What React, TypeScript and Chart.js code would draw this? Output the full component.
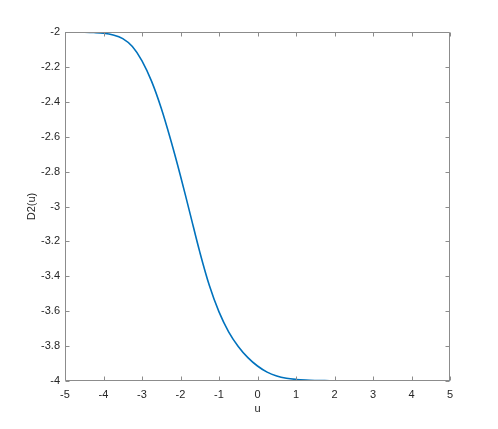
import React, { useEffect, useRef } from "react";
import { Chart, registerables } from "chart.js";

Chart.register(...registerables);

const uValues = [
  -5, -4.75, -4.5, -4.25, -4, -3.75, -3.5, -3.25, -3, -2.75, -2.5, -2.25, -2,
  -1.75, -1.5, -1.25, -1, -0.75, -0.5, -0.25, 0, 0.25, 0.5, 0.75, 1, 1.25, 1.5,
  1.75, 2, 2.5, 3, 3.5, 4, 4.5, 5,
];
const d2Values = [
  -2.0, -2.0, -2.001, -2.003, -2.007, -2.017, -2.038, -2.083, -2.165, -2.283,
  -2.437, -2.622, -2.825, -3.042, -3.26, -3.453, -3.604, -3.718, -3.802,
  -3.866, -3.914, -3.949, -3.971, -3.984, -3.991, -3.995, -3.997, -3.998,
  -3.999, -4.0, -4.0, -4.0, -4.0, -4.0, -4.0,
];
const xTicks = [-5, -4, -3, -2, -1, 0, 1, 2, 3, 4, 5];
const yTicks = [-4, -3.8, -3.6, -3.4, -3.2, -3, -2.8, -2.6, -2.4, -2.2, -2];

const FONT = "'Liberation Sans', Arial, Helvetica, sans-serif";
const AXIS_COLOR = "rgb(140,140,140)";
const TEXT_COLOR = "#262626";

const boxPlugin = {
  id: "matlabBox",
  afterDraw(chart: any) {
    const { ctx, chartArea } = chart;
    const { left, right, top, bottom } = chartArea;
    const L = Math.round(left) + 0.5;
    const R = Math.round(right) - 0.5;
    const T = Math.round(top) + 0.5;
    const B = Math.round(bottom) - 0.5;
    ctx.save();
    ctx.strokeStyle = AXIS_COLOR;
    ctx.lineWidth = 1;
    ctx.beginPath();
    ctx.rect(L, T, R - L, B - T);
    const tl = 4;
    const xs = chart.scales.x;
    const ys = chart.scales.y;
    xTicks.forEach((v) => {
      const px = Math.round(xs.getPixelForValue(v)) + 0.5;
      ctx.moveTo(px, B);
      ctx.lineTo(px, B - tl);
      ctx.moveTo(px, T);
      ctx.lineTo(px, T + tl);
    });
    yTicks.forEach((v) => {
      const py = Math.round(ys.getPixelForValue(v)) + 0.5;
      ctx.moveTo(L, py);
      ctx.lineTo(L + tl, py);
      ctx.moveTo(R, py);
      ctx.lineTo(R - tl, py);
    });
    ctx.stroke();
    ctx.restore();
  },
};

export default function App() {
  const ref = useRef<HTMLCanvasElement | null>(null);
  useEffect(() => {
    if (!ref.current) return;
    const data = uValues.map((u, i) => ({ x: u, y: d2Values[i] }));
    const chart = new Chart(ref.current, {
      type: "line",
      data: {
        datasets: [
          {
            data,
            borderColor: "#0072BD",
            borderWidth: 1.6,
            pointRadius: 0,
            fill: false,
            tension: 0.35,
          },
        ],
      },
      options: {
        responsive: false,
        animation: false,
        devicePixelRatio: 1,
        layout: { padding: { left: 0, top: 32, right: 48, bottom: 0 } },
        plugins: { legend: { display: false }, tooltip: { enabled: false } },
        scales: {
          x: {
            type: "linear",
            min: -5,
            max: 5,
            afterFit: (s: any) => {
              s.height = 48;
            },
            afterBuildTicks: (s: any) => {
              s.ticks = xTicks.map((v) => ({ value: v }));
            },
            grid: { display: false, drawTicks: false },
            border: { display: false },
            ticks: {
              color: TEXT_COLOR,
              font: { family: FONT, size: 11 },
              padding: 7,
              maxRotation: 0,
              autoSkip: false,
              callback: (v: any) => String(Number(Number(v).toFixed(1))),
            },
            title: {
              display: true,
              text: "u",
              color: TEXT_COLOR,
              font: { family: FONT, size: 11 },
              padding: { top: 0, bottom: 13 },
            },
          },
          y: {
            type: "linear",
            min: -4,
            max: -2,
            afterFit: (s: any) => {
              s.width = 65;
            },
            afterBuildTicks: (s: any) => {
              s.ticks = yTicks.map((v) => ({ value: v }));
            },
            grid: { display: false, drawTicks: false },
            border: { display: false },
            ticks: {
              color: TEXT_COLOR,
              font: { family: FONT, size: 11 },
              padding: 5,
              autoSkip: false,
              callback: (v: any) => String(Number(Number(v).toFixed(1))),
            },
            title: {
              display: true,
              text: "D2(u)",
              color: TEXT_COLOR,
              font: { family: FONT, size: 11 },
              padding: { top: 25, bottom: 0 },
            },
          },
        },
      },
      plugins: [boxPlugin],
    } as any);
    return () => chart.destroy();
  }, []);
  return (
    <div style={{ position: "absolute", left: 0, top: 0, width: 498, height: 429, background: "#fff" }}>
      <canvas ref={ref} width={498} height={429} />
    </div>
  );
}
